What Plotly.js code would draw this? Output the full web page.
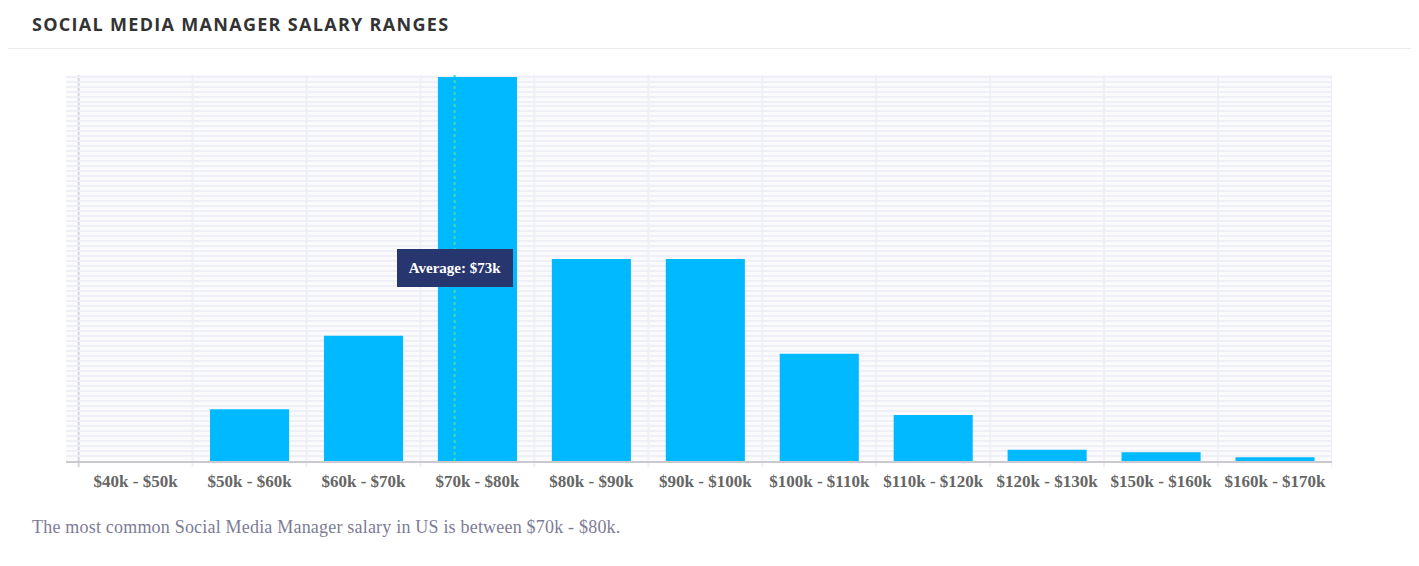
<!DOCTYPE html>
<html>
<head>
<meta charset="utf-8">
<script src="https://cdn.plot.ly/plotly-3.0.1.min.js"></script>
<style>
  html, body { margin: 0; padding: 0; background: #fff; width: 1419px; height: 566px; overflow: hidden; }
  #title { position: absolute; left: 32px; top: 12px; font-family: "Open Sans", sans-serif; font-weight: 700; font-size: 18px; letter-spacing: 1.3px; color: #333; white-space: nowrap; }
  #sep { position: absolute; left: 8px; top: 48px; width: 1403px; height: 1px; background: #ececec; }
  #chart { position: absolute; left: 0; top: 0; width: 1419px; height: 566px; }
  #foot { position: absolute; left: 32px; top: 517px; font-family: "Liberation Serif", serif; font-size: 18px; letter-spacing: 0.2px; color: #7c7c96; white-space: nowrap; }
</style>
</head>
<body>
<div id="chart"></div>
<div id="title">SOCIAL MEDIA MANAGER SALARY RANGES</div>
<div id="sep"></div>
<div id="foot">The most common Social Media Manager salary in US is between $70k - $80k.</div>
<script>
const categories = ["$40k - $50k", "$50k - $60k", "$60k - $70k", "$70k - $80k", "$80k - $90k", "$90k - $100k", "$100k - $110k", "$110k - $120k", "$120k - $130k", "$150k - $160k", "$160k - $170k"];
const shares = [0, 13.5, 32.6, 100, 52.6, 52.6, 27.9, 12.0, 2.9, 2.3, 1.0];
const averageSalaryK = 73;
const averageLabel = "Average: $73k";

// position of average on the category axis (first bin starts at $40k, 10k wide)
const avgX = (averageSalaryK - 45) / 10;

const trace = {
  type: "bar",
  x: categories.map((c, i) => i),
  y: shares,
  marker: { color: "#00b9ff" },
  hoverinfo: "skip"
};

const layout = {
  width: 1419, height: 566,
  margin: { l: 66, r: 87, t: 75, b: 105 },
  paper_bgcolor: "rgba(0,0,0,0)",
  plot_bgcolor: "#fbfbfe",
  bargap: 0.306,
  showlegend: false,
  xaxis: {
    range: [-0.611, 10.5],
    tickmode: "array",
    tickvals: categories.map((c, i) => i),
    ticktext: categories,
    showgrid: false,
    ticks: "",
    ticklabelstandoff: 4,
    tickfont: { family: "Liberation Serif, serif", size: 17, color: "#666", weight: 700 },
    showline: true, linecolor: "#c9c9cf", linewidth: 2,
    zeroline: false,
    fixedrange: true
  },
  yaxis: {
    range: [0, 100.5],
    dtick: 1.3,
    showgrid: true, gridcolor: "#eff0f7", gridwidth: 2,
    showticklabels: false,
    ticks: "",
    zeroline: false,
    showline: false,
    fixedrange: true
  },
  shapes: [],
  annotations: [{
    x: avgX, y: 50.3, xref: "x", yref: "y",
    text: "<b>" + averageLabel + "</b>",
    showarrow: false,
    font: { family: "Liberation Serif, serif", size: 15, color: "#ffffff" },
    bgcolor: "#283670",
    bordercolor: "#283670",
    borderwidth: 1,
    width: 110, height: 32, borderpad: 2
  }]
};

// vertical grid lines at category boundaries
for (let i = 0; i <= categories.length; i++) {
  layout.shapes.push({
    type: "line", xref: "x", yref: "paper",
    x0: i - 0.5, x1: i - 0.5, y0: -0.016, y1: 1,
    line: { color: i === 0 ? "#d6d7de" : "#eef0f6", width: 2 },
    layer: "below"
  });
}
// average dotted line
layout.shapes.push({
  type: "line", xref: "x", yref: "paper",
  x0: avgX, x1: avgX, y0: 0, y1: 1,
  line: { color: "#40d9b0", width: 2, dash: "dot" },
  layer: "above"
});

Plotly.newPlot("chart", [trace], layout, { displayModeBar: false, staticPlot: true });
</script>
</body>
</html>
